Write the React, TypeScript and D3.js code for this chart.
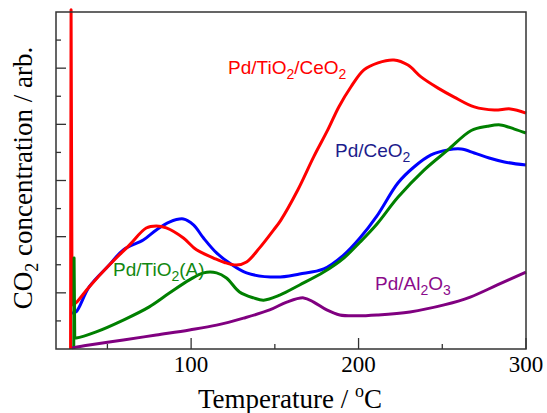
import { useEffect, useRef } from "react";
import * as d3 from "d3";

// temperature (°C), CO2 signal (arb.)
const ceriaTitania: [number, number][] = [
  [28.9, 1.55], [31.3, 1.65], [39.1, 2.21], [51.1, 2.99], [63.1, 3.7], [73.2, 4.31],
  [79.2, 4.38], [85.2, 4.31], [95.4, 3.95], [103.2, 3.53], [113.4, 3.24], [120.0, 3.08],
  [127.1, 2.99], [133.1, 3.1], [140.9, 3.6], [149.3, 4.24], [153.6, 4.59], [163.7, 5.66],
  [173.2, 6.84], [181.6, 7.8], [188.2, 8.62], [195.4, 9.33], [203.2, 9.94], [211.6, 10.19],
  [221.1, 10.29], [229.5, 10.11], [237.3, 9.69], [247.5, 9.29], [257.1, 8.97],
  [269.1, 8.62], [281.1, 8.51], [290.7, 8.55], [300, 8.4],
];
const ceriaTitaniaSpike: [number, number][] = [[28.0, 0], [28.3, 12.08], [28.9, 1.55]];

const ceria: [number, number][] = [
  [28.9, 1.28], [31.3, 1.32], [39.1, 2.21], [51.1, 2.99], [59.5, 3.53], [71.4, 3.88],
  [79.2, 4.24], [87.0, 4.52], [95.4, 4.63], [101.4, 4.42], [107.4, 3.95], [115.2, 3.42],
  [122.9, 3.06], [133.1, 2.71], [151.1, 2.56], [164.8, 2.67], [179.2, 2.85], [191.2, 3.35],
  [200.8, 3.95], [211.0, 4.74], [223.5, 5.91], [233.1, 6.48], [243.3, 6.91],
  [253.4, 7.09], [261.3, 7.12], [269.1, 6.98], [278.0, 6.8], [287.1, 6.66], [300, 6.55],
];

const anatase: [number, number][] = [
  [30.5, 0.39], [31.3, 0.39], [43.3, 0.61], [59.5, 1.03], [75.0, 1.5], [87.0, 1.99],
  [99.0, 2.46], [107.4, 2.71], [115.2, 2.71], [121.1, 2.53], [128.9, 2.03], [137.3, 1.82],
  [143.3, 1.74], [152.9, 1.92], [164.8, 2.28], [179.2, 2.74], [191.2, 3.24], [200.8, 3.8],
  [211.0, 4.45], [223.5, 5.4], [239.1, 6.37], [253.4, 7.09], [267.3, 7.78], [276.9, 7.93],
  [284.7, 7.98], [293.1, 7.83], [300, 7.69],
];
const anataseSpike: [number, number][] = [[29.9, 0], [30.1, 3.24], [30.5, 0.39]];

const alumina: [number, number][] = [
  [28.9, 0.04], [39.1, 0.14], [59.5, 0.32], [79.2, 0.5], [99.0, 0.68], [115.2, 0.85],
  [131.3, 1.1], [146.9, 1.39], [157.1, 1.67], [167.2, 1.82], [173.2, 1.67], [181.0, 1.39],
  [188.8, 1.21], [199.0, 1.18], [211.0, 1.21], [230.7, 1.32], [251.1, 1.57], [266.7, 1.85],
  [282.9, 2.28], [300, 2.74],
];

const series = [
  { data: ceria, spike: null, color: "#0000ff" },
  { data: ceriaTitania, spike: ceriaTitaniaSpike, color: "#ff0000" },
  { data: anatase, spike: anataseSpike, color: "#008000" },
  { data: alumina, spike: null, color: "#800080" },
];

// label pieces: [text, "s" for subscript]
const labels = [
  { parts: [["Pd/TiO", ""], ["2", "s"], ["/CeO", ""], ["2", "s"]], x: 228, y: 74, color: "#ff0000" },
  { parts: [["Pd/CeO", ""], ["2", "s"]], x: 335, y: 157, color: "#1c1c8c" },
  { parts: [["Pd/TiO", ""], ["2", "s"], ["(A)", ""]], x: 113, y: 276, color: "#118811" },
  { parts: [["Pd/Al", ""], ["2", "s"], ["O", ""], ["3", "s"]], x: 375, y: 290, color: "#8b0a8b" },
];

const xMajor = [100, 200, 300];
const xMinor = [50, 150, 250];
const yTicks = d3.range(1, 12);

export default function App() {
  const ref = useRef<SVGSVGElement>(null);

  useEffect(() => {
    const svg = d3.select(ref.current);
    svg.selectAll("*").remove();

    const x = d3.scaleLinear().domain([19.3, 300]).range([56, 526]);
    const y = d3.scaleLinear().domain([0, 12]).range([349, 12]);

    const axisColor = "#333";

    // y ticks (inward, even ones longer)
    svg.append("g")
      .selectAll("line")
      .data(yTicks)
      .join("line")
      .attr("x1", 56)
      .attr("x2", (v) => 56 + (v % 2 === 0 ? 10 : 5))
      .attr("y1", (v) => y(v))
      .attr("y2", (v) => y(v))
      .attr("stroke", axisColor)
      .attr("stroke-width", 1.3);

    // x ticks
    svg.append("g")
      .selectAll("line")
      .data([...xMajor.map((v) => [v, 11]), ...xMinor.map((v) => [v, 5])])
      .join("line")
      .attr("x1", (d) => x(d[0]))
      .attr("x2", (d) => x(d[0]))
      .attr("y1", 349)
      .attr("y2", (d) => 349 - d[1])
      .attr("stroke", axisColor)
      .attr("stroke-width", 1.3);

    svg.append("g")
      .selectAll("text")
      .data(xMajor)
      .join("text")
      .attr("x", (v) => x(v))
      .attr("y", 372)
      .attr("text-anchor", "middle")
      .attr("font-family", "'Liberation Serif', 'Times New Roman', serif")
      .attr("font-size", 23)
      .text((v) => v);

    const smooth = d3.line<[number, number]>()
      .x((d) => x(d[0]))
      .y((d) => y(d[1]))
      .curve(d3.curveCatmullRom.alpha(0.5));
    const straight = d3.line<[number, number]>()
      .x((d) => x(d[0]))
      .y((d) => y(d[1]));

    series.forEach((s) => {
      const g = svg.append("g")
        .attr("fill", "none")
        .attr("stroke", s.color)
        .attr("stroke-width", 3)
        .attr("stroke-linejoin", "round");
      if (s.spike) g.append("path").attr("d", straight(s.spike));
      g.append("path").attr("d", smooth(s.data));
    });

    // frame
    svg.append("rect")
      .attr("x", 56)
      .attr("y", 12)
      .attr("width", 470)
      .attr("height", 337)
      .attr("fill", "none")
      .attr("stroke", axisColor)
      .attr("stroke-width", 1.5);

    // series labels
    labels.forEach((l) => {
      const t = svg.append("text")
        .attr("x", l.x)
        .attr("y", l.y)
        .attr("fill", l.color)
        .attr("font-family", "'Liberation Sans', Arial, sans-serif")
        .attr("font-size", 19);
      let shifted = false;
      l.parts.forEach(([txt, kind]) => {
        const ts = t.append("tspan").text(txt);
        if (kind === "s") {
          ts.attr("font-size", 14).attr("dy", shifted ? 0 : 5);
          shifted = true;
        } else {
          ts.attr("dy", shifted ? -5 : 0);
          shifted = false;
        }
      });
    });

    // axis titles
    const xt = svg.append("text")
      .attr("x", 290)
      .attr("y", 408)
      .attr("text-anchor", "middle")
      .attr("font-family", "'Liberation Serif', 'Times New Roman', serif")
      .attr("font-size", 27);
    xt.append("tspan").text("Temperature / ");
    xt.append("tspan").text("o").attr("font-size", 18).attr("dy", -11);
    xt.append("tspan").text("C").attr("dy", 11);

    const yt = svg.append("text")
      .attr("transform", "translate(32,178) rotate(-90)")
      .attr("text-anchor", "middle")
      .attr("font-family", "'Liberation Serif', 'Times New Roman', serif")
      .attr("font-size", 27);
    yt.append("tspan").text("CO");
    yt.append("tspan").text("2").attr("font-size", 18).attr("dy", 6);
    yt.append("tspan").text(" concentration / arb.").attr("dy", -6);
  }, []);

  return (
    <svg
      ref={ref}
      width={547}
      height={413}
      style={{ position: "absolute", left: 0, top: 0, background: "#fff" }}
    />
  );
}
